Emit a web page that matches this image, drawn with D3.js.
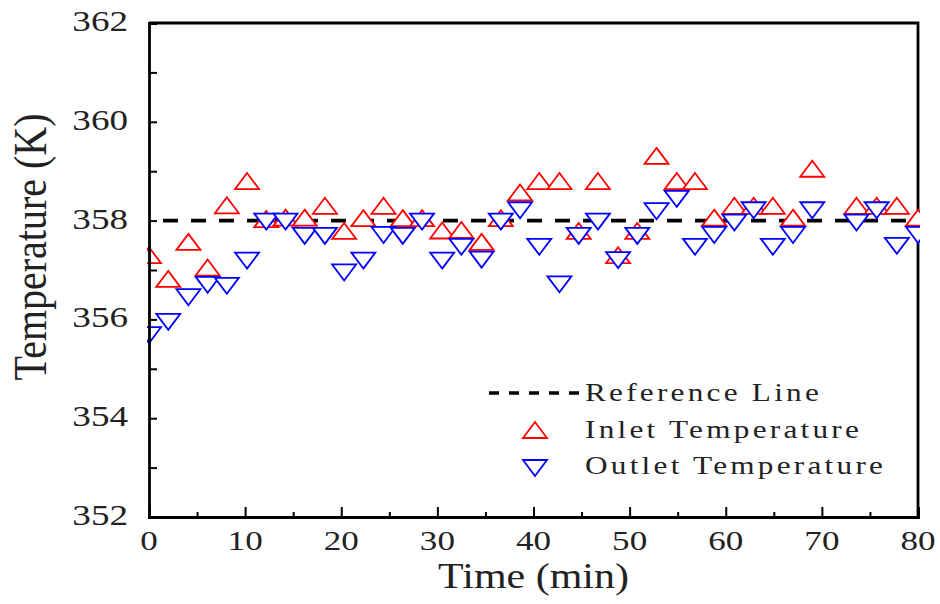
<!DOCTYPE html>
<html>
<head>
<meta charset="utf-8">
<script src="https://cdn.jsdelivr.net/npm/d3@7/dist/d3.min.js"></script>
<style>
  body { margin: 0; background: #fff; }
</style>
</head>
<body>
<svg id="chart" width="940" height="604"></svg>
<script>
// Sampling times (min)
const times = [0, 2.0, 4.1, 6.1, 8.1, 10.2, 12.2, 14.2, 16.2, 18.3,
  20.3, 22.3, 24.4, 26.4, 28.4, 30.5, 32.5, 34.6, 36.6, 38.6,
  40.6, 42.7, 44.7, 46.7, 48.8, 50.8, 52.8, 54.9, 56.8, 58.8,
  60.9, 62.9, 64.9, 67.0, 69.0, 73.6, 75.7, 77.8, 80];

// Inlet temperature (K)
const inletK = [357.30, 356.82, 357.57, 357.05, 358.31, 358.80, 358.03, 358.06, 358.06, 358.30,
  357.79, 358.05, 358.30, 358.05, 358.05, 357.80, 357.81, 357.57, 358.05, 358.57,
  358.80, 358.80, 357.79, 358.80, 357.30, 357.79, 359.31, 358.80, 358.80, 358.06,
  358.30, 358.30, 358.30, 358.06, 359.05, 358.30, 358.30, 358.30, 358.06];

// Outlet temperature (K)
const outletK = [355.68, 355.95, 356.45, 356.70, 356.68, 357.19, 357.98, 357.98, 357.69, 357.69,
  356.95, 357.19, 357.71, 357.69, 357.98, 357.19, 357.47, 357.21, 357.98, 358.21,
  357.47, 356.71, 357.69, 357.98, 357.20, 357.69, 358.19, 358.44, 357.47, 357.71,
  357.96, 358.21, 357.47, 357.71, 358.21, 357.96, 358.21, 357.49, 357.71];

// Reference temperature (K)
const referenceK = 358;

// Axis ticks
const xTickLabels = [0, 10, 20, 30, 40, 50, 60, 70, 80];
const xMinorTicks = [5, 15, 25, 35, 45, 55, 65, 75];
const yTickLabels = [352, 354, 356, 358, 360, 362];
const yMinorTicks = [353, 355, 357, 359, 361];

const legendItems = ["Reference Line", "Inlet Temperature", "Outlet Temperature"];

const FONT = "'Liberation Serif', 'DejaVu Serif', serif";
const svg = d3.select("#chart");
const plotL = 149, plotR = 918, plotT = 23, plotB = 517;

const x = d3.scaleLinear().domain([0, 80]).range([plotL, plotR]);
const y = d3.scaleLinear().domain([352, 362]).range([plotB, plotT]);

// flattened triangle marker, centred on its bounding box
function triangle(up, w = 24, h = 16) {
  const p = d3.path();
  if (up) {
    p.moveTo(0, -h / 2); p.lineTo(w / 2, h / 2); p.lineTo(-w / 2, h / 2);
  } else {
    p.moveTo(0, h / 2); p.lineTo(w / 2, -h / 2); p.lineTo(-w / 2, -h / 2);
  }
  p.closePath();
  return p.toString();
}

svg.append("defs").append("clipPath").attr("id", "plotClip")
  .append("rect").attr("x", plotL - 2).attr("y", plotT - 2)
  .attr("width", plotR - plotL + 4).attr("height", plotB - plotT + 4);

// frame (top and right)
svg.append("path")
  .attr("d", `M${plotL},${plotT}H${plotR}V${plotB}`)
  .attr("fill", "none").attr("stroke", "#000").attr("stroke-width", 2.8);

// reference line
svg.append("line")
  .attr("x1", x(0)).attr("x2", x(80))
  .attr("y1", y(referenceK)).attr("y2", y(referenceK))
  .attr("stroke", "#000").attr("stroke-width", 3.8)
  .attr("stroke-dasharray", "15,13").attr("stroke-dashoffset", 14);

const marks = svg.append("g").attr("clip-path", "url(#plotClip)");

marks.selectAll("path.inlet").data(times.map((t, i) => [t, inletK[i]]))
  .join("path").attr("class", "inlet")
  .attr("d", triangle(true))
  .attr("transform", d => `translate(${x(d[0])},${y(d[1])})`)
  .attr("fill", "#fff").attr("stroke", "#ff0000").attr("stroke-width", 1.8);

marks.selectAll("path.outlet").data(times.map((t, i) => [t, outletK[i]]))
  .join("path").attr("class", "outlet")
  .attr("d", triangle(false))
  .attr("transform", d => `translate(${x(d[0])},${y(d[1])})`)
  .attr("fill", "#fff").attr("stroke", "#0000ff").attr("stroke-width", 1.8);

// bottom axis: inward ticks, longer at labelled values
const xAxisMajor = d3.axisBottom(x).tickValues(xTickLabels).tickSize(-10).tickFormat("");
const xAxisMinor = d3.axisBottom(x).tickValues(xMinorTicks).tickSize(-5).tickFormat("");
const gx = svg.append("g").attr("transform", `translate(0,${plotB})`);
gx.call(xAxisMajor);
gx.append("g").call(xAxisMinor).select(".domain").remove();
gx.selectAll("line").attr("stroke", "#000").attr("stroke-width", 2);
gx.select(".domain").attr("stroke", "#000").attr("stroke-width", 2.8);

// left axis: inward ticks of equal length
const yAxis = d3.axisLeft(y).tickValues(yTickLabels.concat(yMinorTicks)).tickSize(-8).tickFormat("");
const gy = svg.append("g").attr("transform", `translate(${plotL},0)`).call(yAxis);
gy.selectAll("line").attr("stroke", "#000").attr("stroke-width", 2);
gy.select(".domain").attr("stroke", "#000").attr("stroke-width", 2.8);

// tick labels
svg.append("g").selectAll("text").data(xTickLabels).join("text")
  .attr("transform", d => `translate(${x(d)},550) scale(1.3,1)`)
  .attr("text-anchor", "middle").attr("font-family", FONT).attr("fill", "#222")
  .attr("font-size", 27).text(d => d);

svg.append("g").selectAll("text").data(yTickLabels).join("text")
  .attr("transform", d => `translate(128,${y(d) + 8}) scale(1.28,1)`)
  .attr("text-anchor", "end").attr("font-family", FONT).attr("fill", "#222")
  .attr("font-size", 29).text(d => d);

// axis titles
svg.append("text")
  .attr("transform", `translate(${(plotL + plotR) / 2},587.5) scale(1.2,1)`)
  .attr("text-anchor", "middle").attr("font-family", FONT).attr("fill", "#222")
  .attr("font-size", 35).text("Time (min)");

svg.append("text")
  .attr("transform", "translate(46,247) scale(1.15,1) rotate(-90)")
  .attr("text-anchor", "middle").attr("font-family", FONT).attr("fill", "#222")
  .attr("font-size", 40).text("Temperature (K)");

// legend
const legend = svg.append("g");
legend.append("line")
  .attr("x1", 489).attr("x2", 581).attr("y1", 393).attr("y2", 393)
  .attr("stroke", "#000").attr("stroke-width", 3.6).attr("stroke-dasharray", "10,10");
legend.append("path").attr("d", triangle(true))
  .attr("transform", "translate(535,430)")
  .attr("fill", "#fff").attr("stroke", "#ff0000").attr("stroke-width", 1.8);
legend.append("path").attr("d", triangle(false))
  .attr("transform", "translate(535,468)")
  .attr("fill", "#fff").attr("stroke", "#0000ff").attr("stroke-width", 1.8);

const legendBaselines = [401, 438, 474];
legend.selectAll("text.item").data(legendItems).join("text").attr("class", "item")
  .attr("transform", (d, i) => `translate(585,${legendBaselines[i]}) scale(1.25,1)`)
  .attr("font-family", FONT).attr("fill", "#222")
  .attr("font-size", 25).attr("letter-spacing", 2.6).text(d => d);
</script>
</body>
</html>
